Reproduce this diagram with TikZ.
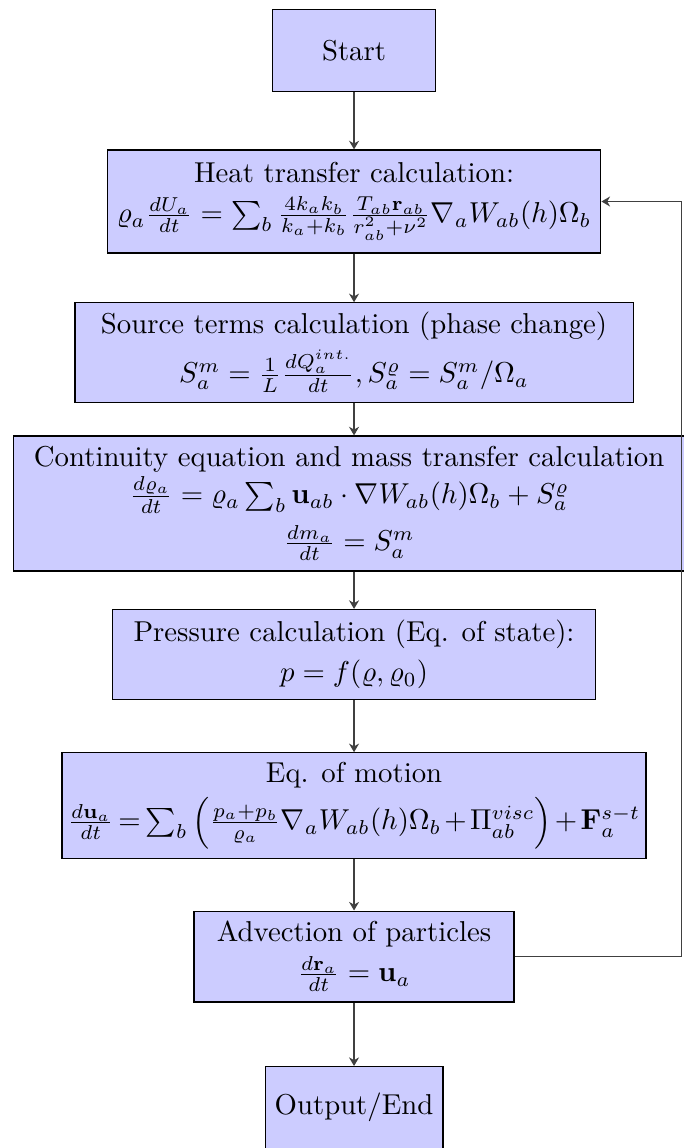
\documentclass[tikz,border=0pt]{standalone}
\usepackage{amsmath}
\usetikzlibrary{positioning, arrows.meta}
\definecolor{BoxFill}{HTML}{CCCCFF}
\tikzset{
  block/.style={draw, fill=BoxFill, align=center, minimum width=2cm, minimum height=1cm},
  line/.style={draw=black!75, -{Stealth[length=3pt, width=3.5pt]}}
}

\begin{document}
\begin{tikzpicture}[node distance=1.845cm, on grid]
  \useasboundingbox (-4.326,0.617) rectangle (4.02,-13.41);
  \node[block] (start) {Start};
  \node[block,below=of start,minimum width=5.98cm,minimum height=1.26cm] (heat) {Heat transfer calculation:\\[2pt]
    $\varrho_a \frac{dU_a}{dt} = \sum_b \frac{4k_ak_b}{k_a+k_b}\frac{T_{ab}\mathbf{r}_{ab}}{r_{ab}^2+\nu^2}\nabla_a W_{ab}(h)\Omega_b$};
  \node[block,below=of heat,minimum width=6.82cm,minimum height=1.17cm] (source) {Source terms calculation (phase change)\\[2pt]
    $S_a^m = \frac{1}{L}\frac{dQ_a^{int.}}{dt}, S_a^\varrho = S_a^m/\Omega_a$};
  \node[block,below=of source,xshift=-0.06cm,minimum width=8.21cm,minimum height=1.65cm] (cont) {Continuity equation and mass transfer calculation\\[1pt]
    $\frac{d\varrho_a}{dt} = \varrho_a \sum_b \mathbf{u}_{ab}\cdot\nabla W_{ab}(h)\Omega_b + S_a^\varrho$\\[3pt]
    $\frac{dm_a}{dt} = S_a^m$};
  \node[block,minimum width=5.90cm,minimum height=1.10cm] (press) at ([yshift=-1.845cm]source |- cont) {Pressure calculation (Eq. of state):\\[2pt]
    $p = f(\varrho,\varrho_0)$};
  \node[block,below=of press,minimum width=7.05cm,minimum height=1.26cm,inner xsep=2pt] (motion) {Eq. of motion\\[2pt]
    $\medmuskip=2mu \thickmuskip=3mu
    \frac{d\mathbf{u}_a}{dt} = \sum_b\left(\frac{p_a+p_b}{\varrho_a}\nabla_a W_{ab}(h)\Omega_b + \Pi_{ab}^{visc}\right) + \mathbf{F}_a^{s-t}$};
  \node[block,below=of motion,minimum width=3.91cm,minimum height=1.11cm] (adv) {Advection of particles\\[2pt]
    $\frac{d\mathbf{r}_a}{dt} = \mathbf{u}_a$};
  \node[block,below=of adv] (out) {Output/End};
  \coordinate[right=4.0cm of adv] (back);

  \draw[line] (start) -- (heat);
  \draw[line] (heat) -- (source);
  \draw[line] (source) -- (source |- cont.north);
  \draw[line] (source |- cont.south) -- (press);
  \draw[line] (press) -- (motion);
  \draw[line] (motion) -- (adv);
  \draw[line] (adv) -- (out);
  \draw[line] (adv) -- (back) |- (heat);
\end{tikzpicture}
\end{document}
